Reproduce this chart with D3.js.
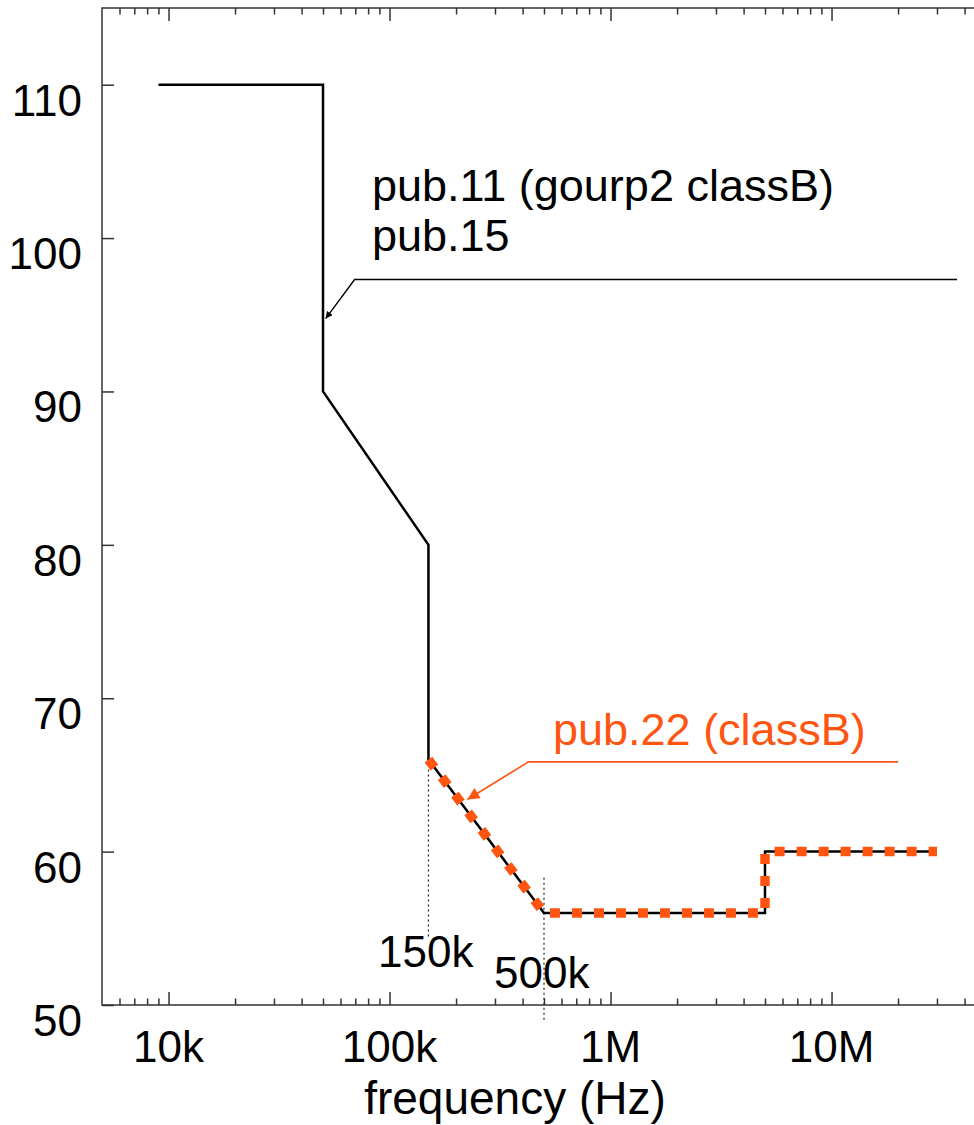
<!DOCTYPE html>
<html>
<head>
<meta charset="utf-8">
<script src="https://cdn.jsdelivr.net/npm/d3@7"></script>
<style>
  body { margin: 0; background: #fff; }
  text { font-family: "Liberation Sans", Arial, Helvetica, sans-serif; }
</style>
</head>
<body>
<svg id="chart" width="974" height="1125"></svg>
<script>
// limit lines (frequency in Hz, level)
const limitFreq = [9e3, 5e4, 5e4, 1.5e5, 1.5e5, 5e5, 5e6, 5e6, 3e7];
const limitLevel = [110, 110, 90, 80, 66, 56, 56, 60, 60];
const classBFreq = [1.5e5, 5e5, 5e6, 5e6, 3e7];
const classBLevel = [66, 56, 56, 60, 60];

const xTickVals = [1e4, 1e5, 1e6, 1e7];
const xTickLabels = ["10k", "100k", "1M", "10M"];
const yTickVals = [50, 60, 70, 80, 90, 100, 110];

// dotted markers under the corner frequencies
const markFreq = [1.5e5, 5e5];
const markTop = [66, 58.3];
const markBottom = [54.4, 48.9];
const markLabels = ["150k", "500k"];

// leader lines: [freq, level] points
const leader1 = [[3.7e7, 97.3], [6.95e4, 97.3], [5.14e4, 94.75]];
const leader2 = [[2.0e7, 65.85], [4.25e5, 65.85], [2.25e5, 63.4]];

const orange = "#ff5511";

const svg = d3.select("#chart");

const x = d3.scaleLog().domain([5000, 5e7]).range([102, 986]);
const y = d3.scaleLinear().domain([50, 115]).range([1005, 8]);

const minorX = [];
for (let d = 1e3; d <= 1e7; d *= 10) {
    for (let k = 2; k <= 9; k++) {
        const v = d * k;
        if (v > 5000 && v < 5e7 && xTickVals.indexOf(v) < 0) minorX.push(v);
    }
}

// frame
svg.append("rect")
    .attr("x", x.range()[0]).attr("y", y.range()[1])
    .attr("width", x.range()[1] - x.range()[0])
    .attr("height", y.range()[0] - y.range()[1])
    .attr("fill", "none").attr("stroke", "#333").attr("stroke-width", 1.5);

function tickAxis(axis, tx, ty) {
    const g = svg.append("g").attr("transform", `translate(${tx},${ty})`).call(axis);
    g.select(".domain").remove();
    g.selectAll(".tick line").attr("stroke", "#333").attr("stroke-width", 1.5);
    g.selectAll(".tick text").remove();
    return g;
}

tickAxis(d3.axisBottom(x).tickValues(xTickVals).tickSize(-13), 0, y.range()[0]);
tickAxis(d3.axisBottom(x).tickValues(minorX).tickSize(-6.5), 0, y.range()[0]);
tickAxis(d3.axisTop(x).tickValues(xTickVals).tickSize(-13), 0, y.range()[1]);
tickAxis(d3.axisTop(x).tickValues(minorX).tickSize(-6.5), 0, y.range()[1]);
tickAxis(d3.axisLeft(y).tickValues(yTickVals).tickSize(-12), x.range()[0], 0);
tickAxis(d3.axisRight(y).tickValues(yTickVals).tickSize(-12), x.range()[1], 0);

// tick labels
svg.selectAll(".xlab").data(xTickVals).join("text")
    .attr("class", "xlab")
    .attr("x", d => x(d)).attr("y", y(50) + 57)
    .attr("text-anchor", "middle").attr("font-size", 44)
    .text((d, i) => xTickLabels[i]);

svg.selectAll(".ylab").data(yTickVals).join("text")
    .attr("class", "ylab")
    .attr("x", 82).attr("y", d => y(d) + 31)
    .attr("text-anchor", "end").attr("font-size", 44)
    .text(d => d);

svg.append("text")
    .attr("x", 515).attr("y", 1114)
    .attr("text-anchor", "middle").attr("font-size", 46)
    .text("frequency (Hz)");

// dotted markers
svg.selectAll(".mark").data(markFreq).join("line")
    .attr("class", "mark")
    .attr("x1", d => x(d)).attr("x2", d => x(d))
    .attr("y1", (d, i) => y(markTop[i])).attr("y2", (d, i) => y(markBottom[i]))
    .attr("stroke", "#222").attr("stroke-width", 1.2)
    .attr("stroke-dasharray", "2,3");

svg.append("text").attr("x", 378).attr("y", 967).attr("font-size", 44).text(markLabels[0]);
svg.append("text").attr("x", 494).attr("y", 988).attr("font-size", 44).text(markLabels[1]);

// limit line
const line = d3.line().x(d => x(d[0])).y(d => y(d[1]));

svg.append("path")
    .datum(limitFreq.map((f, i) => [f, limitLevel[i]]))
    .attr("d", line)
    .attr("fill", "none").attr("stroke", "#000").attr("stroke-width", 2.5)
    .attr("stroke-linejoin", "miter");

svg.append("path")
    .datum(classBFreq.map((f, i) => [f, classBLevel[i]]))
    .attr("d", line)
    .attr("fill", "none").attr("stroke", orange).attr("stroke-width", 9.5)
    .attr("stroke-dasharray", "10,12");

// arrow markers
const defs = svg.append("defs");
defs.append("marker").attr("id", "arrBlack")
    .attr("viewBox", "0 0 10 10").attr("refX", 10).attr("refY", 5)
    .attr("markerWidth", 7).attr("markerHeight", 7).attr("markerUnits", "userSpaceOnUse")
    .attr("orient", "auto")
    .append("path").attr("d", "M0,0L10,5L0,10Z").attr("fill", "#000");
defs.append("marker").attr("id", "arrOrange")
    .attr("viewBox", "0 0 10 10").attr("refX", 10).attr("refY", 5)
    .attr("markerWidth", 16).attr("markerHeight", 12).attr("markerUnits", "userSpaceOnUse")
    .attr("orient", "auto")
    .append("path").attr("d", "M0,0L10,5L0,10Z").attr("fill", orange);

svg.append("path").datum(leader1).attr("d", line)
    .attr("fill", "none").attr("stroke", "#000").attr("stroke-width", 1.4)
    .attr("marker-end", "url(#arrBlack)");
svg.append("path").datum(leader2).attr("d", line)
    .attr("fill", "none").attr("stroke", orange).attr("stroke-width", 1.6)
    .attr("marker-end", "url(#arrOrange)");

svg.append("text").attr("x", 372).attr("y", 201).attr("font-size", 45)
    .text("pub.11 (gourp2 classB)");
svg.append("text").attr("x", 372).attr("y", 251).attr("font-size", 45)
    .text("pub.15");
svg.append("text").attr("x", 553).attr("y", 745).attr("font-size", 45)
    .attr("fill", orange).text("pub.22 (classB)");
</script>
</body>
</html>
